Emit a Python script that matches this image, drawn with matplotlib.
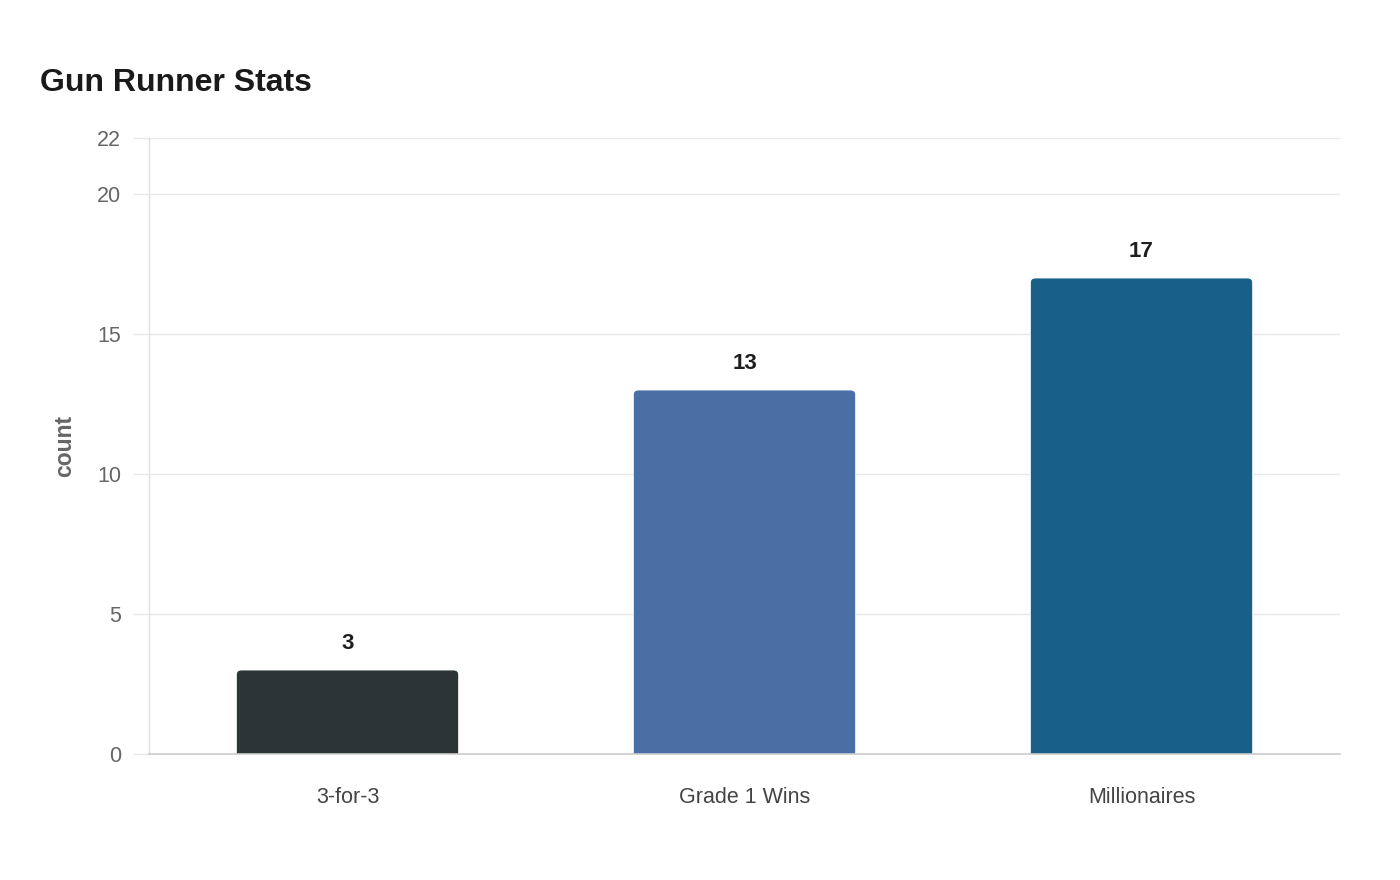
import matplotlib
matplotlib.use("Agg")
import matplotlib.pyplot as plt
from matplotlib.patches import FancyBboxPatch

categories = ["3-for-3", "Grade 1 Wins", "Millionaires"]
counts = [3, 13, 17]
colors = ["#2d3436", "#4a6fa5", "#186087"]
yticks = [0, 5, 10, 15, 20, 22]

plt.rcParams["font.family"] = ["Liberation Sans", "DejaVu Sans"]

fig = plt.figure(figsize=(14, 8.8), dpi=100)
ax = fig.add_axes([149/1400, 1-754/880, (1340-149)/1400, (754-138)/880])
ax.set_xlim(-0.5, len(categories) - 0.5)
ax.set_ylim(0, 22)

# grid
ax.set_yticks(yticks)
ax.yaxis.grid(True, color="#e8e8e8", linewidth=1)
ax.set_axisbelow(True)
ax.tick_params(axis="y", length=11.5, color="#e8e8e8", width=1, labelsize=15.5,
               labelcolor="#666666", pad=8.6)
ax.tick_params(axis="x", length=0, labelsize=15.5, labelcolor="#444444", pad=23.5)
ax.set_xticks(range(len(categories)))
ax.set_xticklabels(categories)

for s in ["top", "right"]:
    ax.spines[s].set_visible(False)
ax.spines["left"].set_color("#e0e0e0")
ax.spines["left"].set_linewidth(1)
ax.spines["bottom"].set_color("#cccccc")
ax.spines["bottom"].set_linewidth(1.2)
ax.spines["bottom"].set_zorder(5)

# rounded-top bars
width = 0.56
px_per_x = (1340 - 149) / 3.0
px_per_y = (754 - 138) / 22.0
r_px = 5
rs = r_px / px_per_x
aspect = px_per_x / px_per_y
bars = ax.bar(range(len(categories)), counts, width=width, color="none")
for b, c, v in zip(bars, colors, counts):
    x0 = b.get_x()
    p = FancyBboxPatch((x0, -1), width, v + 1,
                       boxstyle=f"round,pad=0,rounding_size={rs}",
                       mutation_aspect=aspect, facecolor=c,
                       edgecolor="#ffffff", linewidth=0.6, zorder=3,
                       clip_on=True)
    ax.add_patch(p)
    p.set_clip_path(ax.patch)
    ax.text(b.get_x() + width / 2, v + 0.57, str(v), ha="center", va="bottom",
            fontsize=16, fontweight="bold", color="#1e1e1e")

ax.set_ylabel("count", fontsize=16.5, fontweight="bold", color="#666666", labelpad=15)

fig.text(40/1400, 1 - 83/880, "Gun Runner Stats", fontsize=23, fontweight="bold",
         color="#1a1a1a", ha="left", va="center")

fig.savefig("out.png", dpi=100, facecolor="white")
